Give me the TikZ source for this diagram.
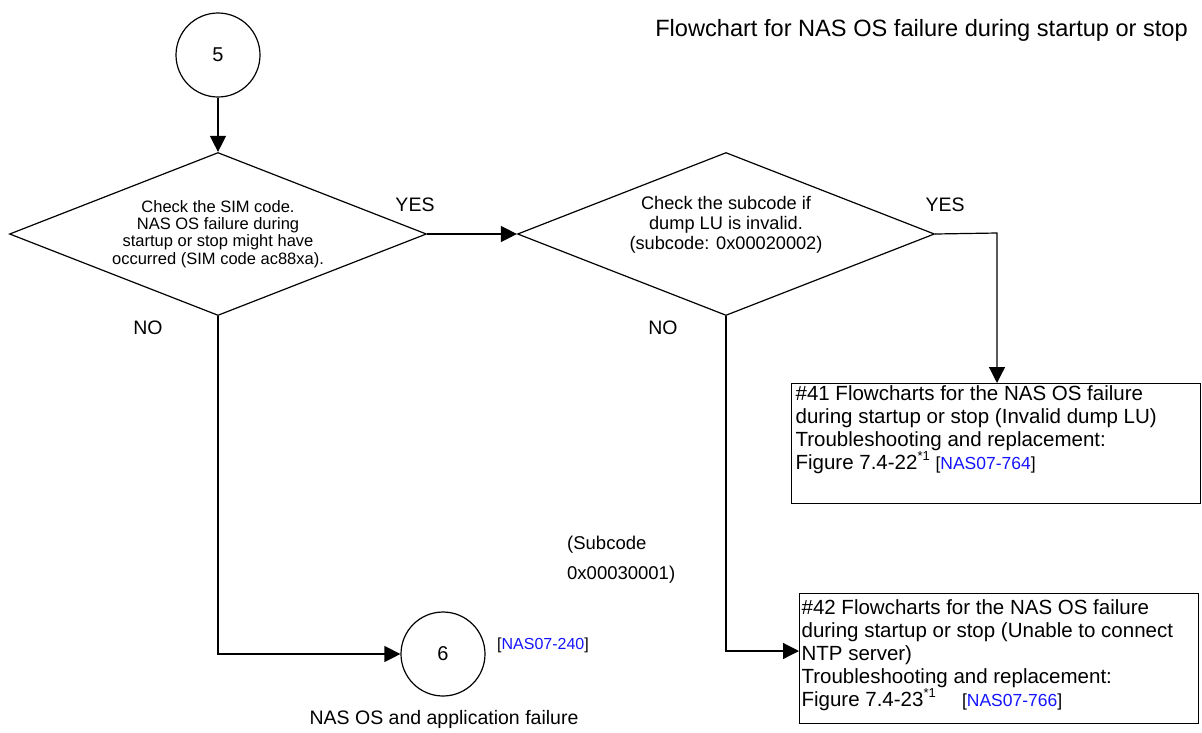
\documentclass[tikz,border=0pt]{standalone}
\usepackage{fontspec}
\setmainfont{Liberation Sans}
\usetikzlibrary{shapes.geometric,arrows.meta}
\definecolor{linkblue}{RGB}{20,20,255}
\tikzset{
  conn/.style={draw, line width=1.2pt, -{Triangle[length=16pt,width=16pt]}},
  connector/.style={circle, draw, line width=1.2pt, minimum size=84pt, inner sep=0pt, font=\fontsize{20}{22}\selectfont},
  decision/.style={diamond, draw, line width=1.2pt, shape aspect=2.56, minimum width=417pt, minimum height=163pt, inner sep=0pt, align=center, font=\fontsize{16.5}{17.3}\selectfont},
  resultbox/.style={rectangle, draw, line width=1.2pt, inner sep=0pt, anchor=north west},
  lbl/.style={inner sep=0pt, font=\fontsize{19.5}{21}\selectfont},
  link/.style={inner sep=0pt},
}
\newcommand{\bxfont}{\fontsize{20.5}{23}\selectfont}
\newcommand{\lnk}[1]{{\fontsize{16}{18}\selectfont[\textcolor{linkblue}{#1}]}}
\newcommand{\blnk}[1]{{\fontsize{17.5}{18}\selectfont[\textcolor{linkblue}{#1}]}}
\newcommand{\supone}{\raisebox{9pt}{\fontsize{13}{13}\selectfont *1}}
\begin{document}
\begin{tikzpicture}[x=1pt,y=-1pt]
\useasboundingbox (0,0) rectangle (1202,732);
\node[inner sep=0pt, anchor=east, font=\fontsize{23.6}{26}\selectfont] (title) at (1188,30) {Flowchart for NAS OS failure during startup or stop};

\node[connector] (c5) at (218,55) {5};
\node[decision] (d1) at (218,234) {Check the SIM code.\\NAS OS failure during\\startup or stop might have\\occurred (SIM code ac88xa).};
\node[decision] (d2) at (726,234) {};
\node[inner sep=0pt, align=center, font=\fontsize{18.2}{20}\selectfont] (d2t) at (726,225) {Check the subcode if\\dump LU is invalid.\\(subcode: 0x00020002)};

\node[resultbox] (b41) at (791,383) {\parbox[c][120pt][t]{409pt}{\bxfont\vspace{2pt}\hspace*{4pt}\parbox[t]{400pt}{\#41 Flowcharts for the NAS OS failure\\during startup or stop (Invalid dump LU)\\Troubleshooting and replacement:\\Figure 7.4-22\supone\ \blnk{NAS07-764}}}};
\node[resultbox] (b42) at (799,593) {\parbox[c][130pt][t]{399pt}{\bxfont\vspace{6pt}\hspace*{2pt}\parbox[t]{396pt}{\#42 Flowcharts for the NAS OS failure\\during startup or stop (Unable to connect\\NTP server)\\Troubleshooting and replacement:\\Figure 7.4-23\supone\quad\ \blnk{NAS07-766}}}};

\node[connector] (c6) at (443,654) {6};
\node[link, anchor=west] (l240) at (497,645) {\lnk{NAS07-240}};
\node[lbl, anchor=north] (appf) at (444,710) {NAS OS and application failure};

\node[lbl] (yes1) at (415,205) {YES};
\node[lbl] (yes2) at (945,205) {YES};
\node[lbl] (no1) at (148,328) {NO};
\node[lbl] (no2) at (663,328) {NO};
\node[inner sep=0pt, anchor=north west, align=left, font=\fontsize{18.5}{30}\selectfont] (sub) at (567,536) {(Subcode\\0x00030001)};

\coordinate (k1) at (997,233);
\coordinate (k2) at (d1.south |- c6.west);
\coordinate (k3) at (726,651);
\coordinate (k4) at (b42.west |- k3);

\draw[conn] (c5) -- (d1.north);
\draw[conn] (d1.east) -- (d2.west);
\draw[conn] (d2.east) -- (k1) -- (k1 |- b41.north);
\draw[conn] (d1.south) -- (k2) -- (c6.west);
\draw[conn] (d2.south) -- (k3) -- (k4);
\end{tikzpicture}
\end{document}
